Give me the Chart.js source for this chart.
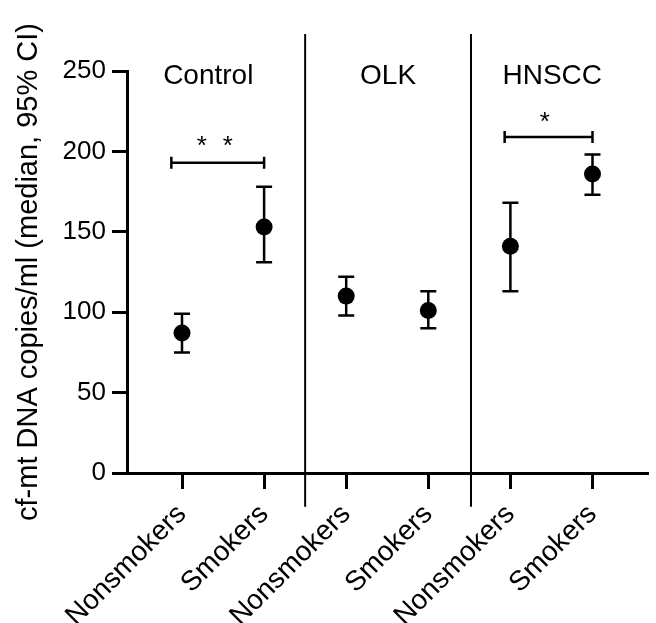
<!DOCTYPE html>
<html>
<head>
<meta charset="utf-8">
<script src="https://cdn.jsdelivr.net/npm/chart.js@4/dist/chart.umd.min.js"></script>
<style>
  html, body { margin: 0; padding: 0; background: #fff; }
  #wrap { width: 656px; height: 623px; }
</style>
</head>
<body>
<div id="wrap"><canvas id="c" width="656" height="623"></canvas></div>
<script>
// ---- data ----
const categories = ['Nonsmokers', 'Smokers', 'Nonsmokers', 'Smokers', 'Nonsmokers', 'Smokers'];
const groups = ['Control', 'OLK', 'HNSCC'];
const medians = [87, 153, 110, 101, 141, 186];
const lowerCI = [75, 131, 98, 90, 113, 173];
const upperCI = [99, 178, 122, 113, 168, 198];
const yTicks = [0, 50, 100, 150, 200, 250];
const sigFrom = [0, 4];
const sigTo = [1, 5];
const sigLabels = ['* *', '*'];
const yTitle = 'cf-mt DNA copies/ml (median, 95% CI)';

// ---- layout / style constants (not data) ----
const FONT = 'Liberation Sans, Arial, Helvetica, sans-serif';
const groupLabelX = [0.32, 2.51, 4.51];
const groupLabelY = 242;
const dividerX = [1.5, 3.52];
const dividerTop = 273, dividerBottom = -21;
const sigBarY = [193, 209];
const sigBarStartOffset = [-0.13, -0.07];
const sigStarY = [207.5, 222.5];
const sigStarX = [0.4, 4.42];

Chart.defaults.font.family = FONT;
Chart.defaults.color = '#000';

const annotations = {
  id: 'annotations',
  beforeDatasetsDraw(chart) {
    const ctx = chart.ctx;
    const xs = chart.scales.x, ys = chart.scales.y;
    ctx.save();
    // divider lines
    ctx.strokeStyle = '#000';
    ctx.lineWidth = 2;
    dividerX.forEach(d => {
      const px = xs.getPixelForValue(d);
      ctx.beginPath();
      ctx.moveTo(px, ys.getPixelForValue(dividerTop));
      ctx.lineTo(px, ys.getPixelForValue(dividerBottom));
      ctx.stroke();
    });
    // error bars
    ctx.lineWidth = 2.5;
    const cap = 8;
    medians.forEach((m, i) => {
      const px = xs.getPixelForValue(i);
      const yl = ys.getPixelForValue(lowerCI[i]);
      const yu = ys.getPixelForValue(upperCI[i]);
      ctx.beginPath();
      ctx.moveTo(px, yl); ctx.lineTo(px, yu);
      ctx.moveTo(px - cap, yl); ctx.lineTo(px + cap, yl);
      ctx.moveTo(px - cap, yu); ctx.lineTo(px + cap, yu);
      ctx.stroke();
    });
    ctx.restore();
  },
  afterDraw(chart) {
    const ctx = chart.ctx;
    const xs = chart.scales.x, ys = chart.scales.y;
    ctx.save();
    ctx.fillStyle = '#000';
    ctx.strokeStyle = '#000';
    // group labels
    ctx.font = '28px ' + FONT;
    ctx.textAlign = 'center';
    ctx.textBaseline = 'alphabetic';
    groups.forEach((g, i) => {
      ctx.fillText(g, xs.getPixelForValue(groupLabelX[i]), ys.getPixelForValue(groupLabelY));
    });
    // significance brackets
    ctx.lineWidth = 2.5;
    sigFrom.forEach((f, i) => {
      const x1 = xs.getPixelForValue(f + sigBarStartOffset[i]);
      const x2 = xs.getPixelForValue(sigTo[i]);
      const y = ys.getPixelForValue(sigBarY[i]);
      ctx.beginPath();
      ctx.moveTo(x1, y); ctx.lineTo(x2, y);
      ctx.moveTo(x1, y - 6); ctx.lineTo(x1, y + 6);
      ctx.moveTo(x2, y - 6); ctx.lineTo(x2, y + 6);
      ctx.stroke();
      const stars = sigLabels[i].split(' ');
      const cx = xs.getPixelForValue(sigStarX[i]);
      const cy = ys.getPixelForValue(sigStarY[i]);
      ctx.font = '26px ' + FONT;
      const gap = 26;
      stars.forEach((s, k) => {
        const sx = cx + (k - (stars.length - 1) / 2) * gap;
        ctx.fillText(s, sx, cy + 0.56 * 26);
      });
    });
    ctx.restore();
  }
};

new Chart(document.getElementById('c'), {
  type: 'scatter',
  data: {
    datasets: [{
      data: medians.map((v, i) => ({ x: i, y: v })),
      pointRadius: 8.5,
      pointHoverRadius: 8.5,
      backgroundColor: '#000',
      borderColor: '#000',
      borderWidth: 0
    }]
  },
  options: {
    responsive: false,
    animation: false,
    events: [],
    layout: { padding: { top: 71, right: 6, left: 0, bottom: 0 } },
    plugins: { legend: { display: false }, tooltip: { enabled: false } },
    scales: {
      x: {
        type: 'linear',
        min: -0.67,
        max: 5.67,
        afterBuildTicks: s => { s.ticks = categories.map((_, i) => ({ value: i })); },
        afterFit: s => { s.height = 150; },
        ticks: {
          callback: v => categories[v],
          autoSkip: false,
          minRotation: 45,
          maxRotation: 45,
          padding: 9,
          color: '#000',
          font: { size: 28, family: FONT }
        },
        grid: { display: true, drawOnChartArea: false, drawTicks: true, tickLength: 16, lineWidth: 3, color: '#000' },
        border: { display: true, width: 3, color: '#000' }
      },
      y: {
        min: 0,
        max: 250,
        afterBuildTicks: s => { s.ticks = yTicks.map(v => ({ value: v })); },
        afterFit: s => { s.width = 127; },
        ticks: { padding: 6, color: '#000', font: { size: 26, family: FONT } },
        grid: { display: true, drawOnChartArea: false, drawTicks: true, tickLength: 15, lineWidth: 3, color: '#000' },
        border: { display: true, width: 3, color: '#000' },
        title: { display: true, text: yTitle, color: '#000', font: { size: 29, family: FONT }, padding: { top: 12, bottom: 0 } }
      }
    }
  },
  plugins: [annotations]
});
</script>
</body>
</html>
